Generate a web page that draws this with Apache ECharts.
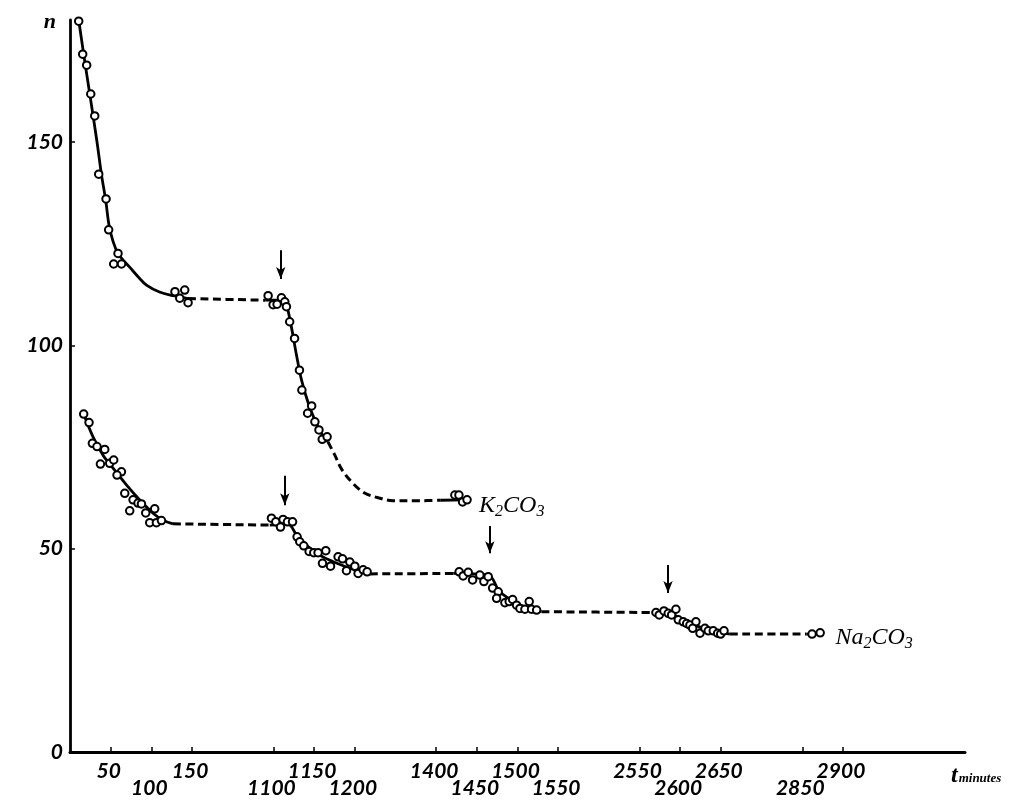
<!DOCTYPE html>
<html>
<head>
<meta charset="utf-8">
<script src="https://cdn.jsdelivr.net/npm/echarts@6/dist/echarts.min.js"></script>
<style>html,body{margin:0;padding:0;background:#fff}#c{width:1013px;height:800px}</style>
</head>
<body>
<div id="c"></div>
<script>
// ---------- DATA (t in minutes, n) ----------
const xTicksUpper = [50, 150, 1150, 1400, 1500, 2550, 2650, 2900];
const xTicksLower = [100, 1100, 1200, 1450, 1550, 2600, 2850];
const yTicks = [0, 50, 100, 150];

// K2CO3 measured points
const kPoints1 = [[10.7,179.7],[15.6,171.6],[20.5,168.9],[25.5,161.8],[30.4,156.4],[35.3,142.1],[44.3,136.0],[47.5,128.4],[53.7,120.0],[59,122.6],[63.3,120.0],[129,113.2],[134.9,111.6],[141,113.6],[145.1,110.5]];
const kPoints2 = [[1093.5,112.2],[1099.6,110.0],[1104.5,110.1],[1109.9,111.7],[1114,110.7],[1116,109.5],[1120,105.8],[1126,101.7],[1132,93.9],[1135,89.0],[1142,83.3],[1147,85.1],[1151,81.2],[1156,79.2],[1160,76.9],[1166,77.5]];
const kPoints3 = [[1423,63.2],[1428,63.2],[1432.5,61.5],[1438,62.0]];
// K2CO3 drawn curve (solid) and dashed connections
const kCurve1 = [[10.7,180],[16.8,171.6],[24.3,161.8],[33.2,150],[38.6,142.1],[44,135.5],[48,129.5],[53,125.5],[59,122.6],[66,120.8],[73,119.3],[84,116.8],[94,114.8],[110,113.1],[127,112.2],[145,111.5]];
const kCurve2 = [[1090,111.1],[1100,111.1],[1111,111.1],[1116,109.9],[1122,104.6],[1128,98.0],[1134.5,91.5],[1143,85.7],[1151,81.6],[1159,78.4],[1167,76.3]];
const kCurve3 = [[1405,61.9],[1435,62.0]];
const kDash1 = [[145,111.5],[1090,111.1]];
const kDash2 = [[1167,76.3],[1175.5,73.0],[1184,69.5],[1197.6,66.1],[1212,63.7],[1231,62.4],[1247,61.8],[1380,61.8],[1405,61.9]];

// Na2CO3 measured points
const naPoints1 = [[16.8,83.1],[23.4,81.0],[27.5,75.9],[33.2,75.1],[42.7,74.4],[37.4,70.8],[48.8,71.0],[53.7,71.8],[63.2,68.9],[57.8,68.1],[67.3,63.6],[77.5,62.0],[83.6,61.2],[87.8,61.0],[73.4,59.3],[93.1,58.8],[104.1,59.8],[98.0,56.4],[106.2,56.4],[112.4,56.9]];
const naPoints2 = [[1097.6,57.5],[1102.9,56.6],[1108.7,55.3],[1111.9,57.2],[1117.3,56.6],[1123.5,56.6],[1129.1,52.9],[1132.4,51.7],[1137.3,50.7],[1143.9,49.3],[1149.6,49.0],[1154.9,49.0],[1164.4,49.5],[1160.3,46.4],[1170.2,45.7],[1179.5,48.0],[1184.9,47.5],[1193.9,46.7],[1200.1,45.7],[1189.8,44.6],[1204.1,43.9],[1210.3,44.8],[1215.2,44.3]];
const naPoints3 = [[1428.3,44.3],[1433.2,43.3],[1439.4,44.2],[1444.8,42.3],[1453.7,43.5],[1458.7,41.9],[1464,43.1],[1469.4,40.3],[1476.3,39.4],[1474.3,37.8],[1484.5,36.7],[1489.8,37.0],[1494,37.5],[1498.9,36.1],[1503,35.3],[1509.1,35.1],[1514.4,37.0],[1517.3,35.1],[1523.5,34.9]];
const naPoints4 = [[2570.2,34.3],[2574.2,33.7],[2580,34.7],[2585.3,34.1],[2589.4,33.7],[2594.7,35.1],[2597.6,32.5],[2603.7,32.0],[2607.9,31.6],[2611.9,31.2],[2619.3,32.0],[2615.3,30.4],[2624.3,29.2],[2630.4,30.4],[2634.5,29.8],[2640.6,29.8],[2646,29.2],[2649.7,29.0],[2653.8,29.8]];
const naPoints5 = [[2862,29.0],[2872,29.3]];
// Na2CO3 drawn curve (solid) and dashed connections
const naCurve1 = [[16.8,83.1],[28.3,77.5],[40.6,73.0],[52.9,69.8],[69.3,65.7],[85.7,62.0],[102.1,58.7],[114.3,57.0],[126.6,56.1]];
const naCurve2 = [[1095.5,55.8],[1118,56.0],[1128.4,53.4],[1142.6,50.5],[1157,48.4],[1173.4,46.8],[1194,45.2],[1210.3,44.1],[1218.5,43.8]];
const naCurve3 = [[1421,43.9],[1464,43.5],[1478.3,39.4],[1498.9,36.6],[1519.3,34.9],[1529.6,34.5]];
const naCurve4 = [[2565,34.3],[2587,34.1],[2603.7,32.5],[2628.3,30.4],[2644.8,29.6],[2661,29.0]];
const naCurve5 = [[2855,29.0],[2876,29.0]];
const naDash1 = [[126.6,56.1],[1095.5,55.8]];
const naDash2 = [[1218.5,43.8],[1421,43.9]];
const naDash3 = [[1529.6,34.5],[2565,34.3]];
const naDash4 = [[2661,29.0],[2855,29.0]];

// arrows marking additions: time, top n, bottom n
const arrowT = [1109, 1114, 1466, 2585];
const arrowTop = [123.4, 67.9, 55.6, 46.0];
const arrowBottom = [116.3, 60.7, 48.9, 39.1];

// curve labels: anchor point
const labelK = [1438, 62.0];
const labelNa = [2876, 29.0];

// ---------- broken time axis ----------
// [from t, to t, offset] : axis position = t - offset
const axisBreaks = [[0,200,0],[1050,1250,850],[1350,1600,950],[2500,2700,1850],[2800,3100,1950]];
function toAxis(t){ for (const [a,b,o] of axisBreaks) if (t>=a && t<=b) return t-o; return null; }
function fromAxis(d){ for (const [a,b,o] of axisBreaks) if (d>=a-o-1e-6 && d<=b-o+1e-6) return d+o; return d; }
const P = arr => arr.map(([t,n]) => [toAxis(t), n]);

const INK = '#000';
const numFont = {fontFamily:'Lato', fontStyle:'italic', fontWeight:'bold', fontSize:21, color:INK};

function solid(d){ return {type:'line', data:P(d), symbol:'none', smooth:0.35, lineStyle:{color:INK,width:2.8}, z:2, silent:true}; }
function dashed(d){ return {type:'line', data:P(d), symbol:'none', smooth:0.35, lineStyle:{color:INK,width:3,type:[8,4.5]}, z:2, silent:true}; }
function pts(d){ return {type:'scatter', data:P(d), symbol:'circle', symbolSize:7.5, itemStyle:{color:'#fff', borderColor:INK, borderWidth:2, opacity:1}, z:5, silent:true}; }

const subRich = {
  m:{fontFamily:'Liberation Serif', fontStyle:'italic', fontSize:24, color:INK, lineHeight:28},
  s:{fontFamily:'Liberation Serif', fontStyle:'italic', fontSize:16, color:INK, lineHeight:14, verticalAlign:'bottom'}
};
function label(pt, txt, off){ return {type:'scatter', data:[P([pt])[0]], symbolSize:0, silent:true, z:6,
  label:{show:true, position:'right', distance:12, offset:off, color:INK, opacity:1, formatter:txt, rich:subRich}}; }

const chart = echarts.init(document.getElementById('c'), null, {renderer:'canvas'});
chart.setOption({
  animation:false,
  backgroundColor:'#fff',
  grid:{left:70, right:48, top:20, bottom:48},
  xAxis:[
    {type:'value', min:0, max:1100, position:'bottom',
     axisLine:{show:true, lineStyle:{color:INK, width:3}},
     axisTick:{show:true, inside:true, length:5, lineStyle:{color:INK,width:1.5}, customValues:[...xTicksUpper, ...xTicksLower].map(toAxis)},
     axisLabel:Object.assign({show:true, margin:9, customValues:xTicksUpper.map(toAxis), formatter:v=>String(Math.round(fromAxis(v))), padding:[0,4,0,0]}, numFont),
     splitLine:{show:false},
     name:'{t|t}{m|minutes}', nameLocation:'end', nameGap:-14,
     nameTextStyle:{align:'left', verticalAlign:'top', padding:[12,0,0,0],
       rich:{t:{fontFamily:'Liberation Serif', fontStyle:'italic', fontWeight:'bold', fontSize:24, color:INK},
             m:{fontFamily:'Liberation Serif', fontStyle:'italic', fontWeight:'bold', fontSize:13, color:INK, padding:[6,0,0,1]}}}},
    {type:'value', min:0, max:1100, position:'bottom',
     axisLine:{show:false}, axisTick:{show:false}, splitLine:{show:false},
     axisLabel:Object.assign({show:true, margin:26, customValues:xTicksLower.map(toAxis), formatter:v=>String(Math.round(fromAxis(v))), padding:[0,4,0,0]}, numFont)}
  ],
  yAxis:{type:'value', min:0, max:180, interval:50,
     axisLine:{show:true, lineStyle:{color:INK, width:2.8}},
     axisTick:{show:true, inside:true, length:5, lineStyle:{color:INK,width:1.5}, customValues:yTicks.slice(1)},
     axisLabel:Object.assign({margin:7, customValues:yTicks}, numFont),
     splitLine:{show:false},
     name:'n', nameLocation:'end', nameGap:-2,
     nameTextStyle:{fontFamily:'Liberation Serif', fontStyle:'italic', fontWeight:'bold', fontSize:22, color:INK, align:'right', verticalAlign:'middle', padding:[0,14,0,0]}},
  series:[
    solid(kCurve1), solid(kCurve2), solid(kCurve3), dashed(kDash1), dashed(kDash2),
    solid(naCurve1), solid(naCurve2), solid(naCurve3), solid(naCurve4), solid(naCurve5),
    dashed(naDash1), dashed(naDash2), dashed(naDash3), dashed(naDash4),
    pts(kPoints1), pts(kPoints2), pts(kPoints3),
    pts(naPoints1), pts(naPoints2), pts(naPoints3), pts(naPoints4), pts(naPoints5),
    {type:'line', data:[], silent:true,
     markLine:{silent:true, symbol:['none','arrow'], symbolSize:[7,12], label:{show:false},
       lineStyle:{color:INK, width:2, type:'solid', opacity:1}, emphasis:{disabled:true},
       data:arrowT.map((t,i)=>[{coord:[toAxis(t), arrowTop[i]]},{coord:[toAxis(t), arrowBottom[i]]}])}},
    label(labelK, '{m|K}{s|2}{m|CO}{s|3}', [0,6]),
    label(labelNa, '{m|Na}{s|2}{m|CO}{s|3}', [0,4])
  ]
});
</script>
</body>
</html>
